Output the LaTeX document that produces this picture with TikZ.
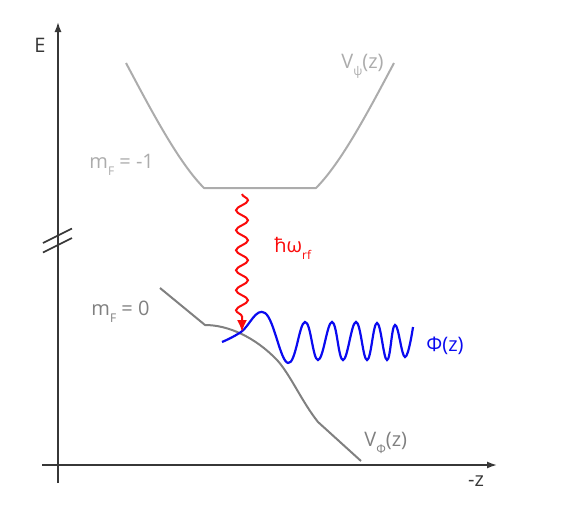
\documentclass[tikz,border=0pt]{standalone}
\usepackage{fontspec}
\setmainfont{Open Sans}
\usetikzlibrary{arrows.meta,decorations.pathmorphing}
\definecolor{axisgray}{RGB}{55,55,55}
\definecolor{lightpot}{RGB}{172,172,172}
\definecolor{darkpot}{RGB}{128,128,128}
\definecolor{wfblue}{RGB}{10,10,240}
\definecolor{rfred}{RGB}{250,10,10}
\newcommand{\lowidx}[1]{\raisebox{-3.5pt}{\fontsize{6}{6}\selectfont #1}}

\begin{document}
\begin{tikzpicture}[x=0.5pt,y=-0.5pt,
  axis/.style={axisgray, line width=0.8pt, -{Latex[length=5pt,width=3.5pt]}},
  pot/.style={line width=1pt, line join=round},
  lbl/.style={inner sep=0pt, font=\fontsize{10}{12}\selectfont}]
\useasboundingbox (0,0) rectangle (561,530);

% axes
\coordinate (ybot) at (58,483);
\coordinate (ytop) at (58,22);
\coordinate (xleft) at (42,465);
\coordinate (xright) at (497,465);
\draw[axis] (ybot) -- (ytop);
\draw[axis] (xleft) -- (xright);
\node[lbl, axisgray] (elbl) at (40,45) {E};
\node[lbl, axisgray] (zlbl) at (476,481) {-z};

% axis break
\foreach \yy in {236,245.5}
  \draw[axisgray, line width=0.8pt] (43,\yy+7) -- (72,\yy-7.5);

% potentials
\draw[pot, lightpot] (126,63) .. controls (150,108) and (178,162) .. (204,188)
  -- (316,188) .. controls (342,162) and (370,108) .. (394,63);
\draw[pot, darkpot] (160,288) -- (205,325)
  .. controls (228,325) and (255,337) .. (277,360)
  .. controls (290,374) and (302,402) .. (318,422) -- (361,461);

% wave function
\draw[wfblue, line width=1.1pt] plot[smooth, tension=0.7] coordinates {(222,342) (241,332) (265,313)
  (288,363) (305,322) (318,360) (332,322) (343,360) (356,322) (367,360) (377,323) (387,360)
  (395,325) (405,357) (413,327)};

% rf photon
\coordinate (rftop) at (242,194);
\coordinate (rfbot) at (242,332);
\draw[rfred, line width=1pt, decorate,
  decoration={snake, amplitude=3pt, segment length=10pt, post length=7pt},
  -{Latex[length=6pt,width=5pt]}] (rftop) -- (rfbot);

% labels
\node[lbl, lightpot, anchor=west] (mtop) at (89,165) {m\lowidx{F} = -1};
\node[lbl, darkpot, anchor=west] (mbot) at (91,312) {m\lowidx{F} = 0};
\node[lbl, lightpot, anchor=west] (vpsi) at (341,66) {V\lowidx{ψ}(z)};
\node[lbl, darkpot, anchor=west] (vphi) at (364,443) {V\lowidx{Φ}(z)};
\node[lbl, wfblue, anchor=west] (philbl) at (426,346) {Φ(z)};
\node[lbl, rfred, anchor=west] (rflbl) at (274,248) {ħω\lowidx{rf}};
\end{tikzpicture}
\end{document}
